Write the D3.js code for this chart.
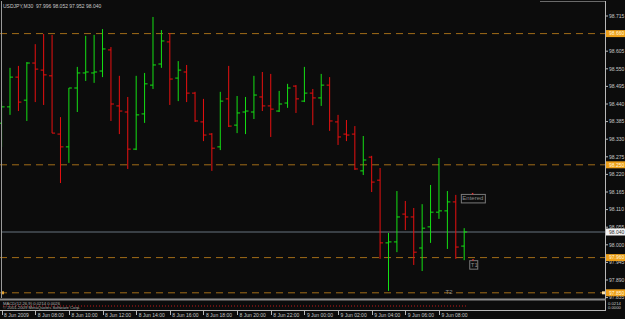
<!DOCTYPE html>
<html><head><meta charset="utf-8">
<script src="https://cdn.jsdelivr.net/npm/d3@7"></script>
<style>html,body{margin:0;padding:0;background:#0c0c0c;overflow:hidden}</style>
</head><body><svg id="c" width="625" height="319"></svg>
<script>
// ---------- DATA ----------
const chartTitle = "USDJPY,M30";
const lastOHLC = ["97.996", "98.052", "97.952", "98.040"];
const barOpen  = [98.380,98.431,98.524,98.452,98.568,98.546,98.528,98.346,98.306,98.490,98.537,98.537,98.543,98.609,98.434,98.415,98.299,98.409,98.499,98.565,98.634,98.521,98.540,98.474,98.384,98.346,98.306,98.456,98.374,98.415,98.415,98.462,98.434,98.418,98.443,98.496,98.449,98.474,98.459,98.499,98.384,98.346,98.346,98.231,98.274,98.202,98.006,98.009,98.096,98.087,97.990,98.056,98.102,98.106,98.134,97.996];
const barHigh  = [98.449,98.553,98.559,98.571,98.627,98.659,98.656,98.399,98.490,98.556,98.653,98.656,98.674,98.618,98.528,98.462,98.528,98.537,98.712,98.671,98.662,98.574,98.562,98.478,98.456,98.349,98.478,98.559,98.465,98.462,98.528,98.540,98.534,98.481,98.503,98.499,98.556,98.487,98.534,98.524,98.406,98.390,98.371,98.340,98.278,98.240,98.037,98.168,98.137,98.115,98.127,98.187,98.271,98.168,98.156,98.052];
const barLow   = [98.306,98.406,98.418,98.387,98.446,98.437,98.349,98.193,98.256,98.415,98.512,98.506,98.524,98.387,98.346,98.237,98.296,98.381,98.487,98.553,98.437,98.449,98.446,98.384,98.324,98.231,98.296,98.368,98.349,98.346,98.393,98.418,98.337,98.415,98.428,98.412,98.446,98.374,98.434,98.356,98.312,98.324,98.234,98.218,98.165,97.956,97.856,97.977,98.046,97.937,97.918,98.006,98.081,97.987,97.956,97.952];
const barClose = [98.431,98.524,98.446,98.568,98.549,98.531,98.349,98.306,98.490,98.537,98.540,98.540,98.612,98.440,98.418,98.299,98.406,98.503,98.562,98.637,98.518,98.546,98.474,98.387,98.343,98.302,98.449,98.371,98.412,98.418,98.468,98.434,98.424,98.440,98.490,98.456,98.474,98.459,98.499,98.387,98.337,98.343,98.237,98.265,98.196,98.006,98.009,98.087,98.087,97.977,98.052,98.102,98.106,98.134,97.993,98.040];
const timeLabels = ["8 Jun 2009","8 Jun 08:00","8 Jun 10:00","8 Jun 12:00","8 Jun 14:00","8 Jun 16:00","8 Jun 18:00","8 Jun 20:00","8 Jun 22:00","9 Jun 00:00","9 Jun 02:00","9 Jun 04:00","9 Jun 06:00","9 Jun 08:00"];
const timeLabelBars = [0,4,8,12,16,20,24,28,32,36,40,44,48,52];
const priceTicks = [98.715,98.660,98.605,98.550,98.495,98.440,98.385,98.330,98.275,98.220,98.165,98.110,98.055,98.000,97.945,97.890,97.835];
const levelPrices = [98.660,98.250,97.960,97.850];
const bidPrice = 98.040;
const noteTexts = ["Entered","T1","T2"];
const noteBars = [54.6,55.6,52.6];
const notePrices = [98.159,97.952,97.868];
const indicatorText = "MACD(12,26,9) 0.0214 0.0026";
const copyrightText = "\u00a9 2001-2009 MetaQuotes Software Corp.";
const indicatorScale = ["0.0214","0.0000"];

// ---------- DRAW ----------
const svg = d3.select("#c");
const W = 625, H = 319;
const FONT = "Liberation Sans, Arial, sans-serif";
svg.append("rect").attr("width", W).attr("height", H).attr("fill", "#0c0c0c");

const x = d3.scaleLinear().domain([0, 55]).range([1.6, 464.2]);
const y = d3.scaleLinear().domain([98.715, 97.835]).range([16, 297.6]);
const bull = "#14e014", bear = "#e81010";
const axisCol = "#b8b8b8", textCol = "#c8c8c8";

const plot = svg.append("g");

// level dashed lines
plot.selectAll("line.lvl").data(levelPrices).join("line")
  .attr("x1", 0).attr("x2", 605).attr("y1", d => y(d)).attr("y2", d => y(d))
  .attr("stroke", "#a06c18").attr("stroke-width", 1).attr("stroke-dasharray", "7,5");

// bid line
plot.append("line").attr("x1", 1).attr("x2", 605).attr("y1", y(bidPrice)).attr("y2", y(bidPrice))
  .attr("stroke", "#66727e").attr("stroke-width", 1);

// bars
const bars = plot.selectAll("g.bar").data(barOpen.map((o, i) => i)).join("g");
const col = i => barClose[i] >= barOpen[i] ? bull : bear;
bars.append("line")
  .attr("x1", i => x(i)).attr("x2", i => x(i))
  .attr("y1", i => y(barHigh[i])).attr("y2", i => y(barLow[i]))
  .attr("stroke", col);
bars.append("line")
  .attr("x1", i => x(i) - 3).attr("x2", i => x(i))
  .attr("y1", i => y(barOpen[i])).attr("y2", i => y(barOpen[i]))
  .attr("stroke", col);
bars.append("line")
  .attr("x1", i => x(i)).attr("x2", i => x(i) + 3)
  .attr("y1", i => y(barClose[i])).attr("y2", i => y(barClose[i]))
  .attr("stroke", col);

// annotations
noteTexts.forEach((t, k) => {
  const nx = x(noteBars[k]), ny = y(notePrices[k]);
  const g = plot.append("g");
  g.append("text").attr("x", nx + 1.5).attr("y", ny + 6.5)
    .attr("font-family", FONT).attr("font-size", 6).attr("fill", "#8a8a8a").text(t);
  if (k < 2) {
    const w = t.length > 2 ? 24 : 8;
    g.append("rect").attr("x", nx + 0.5).attr("y", ny + 0.5).attr("width", w).attr("height", 8.5)
      .attr("fill", "none").attr("stroke", "#7a7a7a").attr("stroke-width", 1);
    g.append("rect").attr("x", nx + w / 2 - 1).attr("y", ny - 1).attr("width", 1.5).attr("height", 1.5).attr("fill", "#e03030");
  }
});

// level end markers (selected line)
svg.append("rect").attr("x", 1).attr("y", y(levelPrices[3]) - 1.5).attr("width", 3).attr("height", 3).attr("fill", "#e0a030");
svg.append("rect").attr("x", 602).attr("y", y(levelPrices[3]) - 1.5).attr("width", 3).attr("height", 3).attr("fill", "#ffe0a0");

// frame
svg.append("line").attr("x1", 1.5).attr("x2", 1.5).attr("y1", 1).attr("y2", 298).attr("stroke", "#9a9a9a");
svg.append("line").attr("x1", 540).attr("x2", 606).attr("y1", 1.5).attr("y2", 1.5).attr("stroke", "#6a6a6a");
svg.append("line").attr("x1", 605.5).attr("x2", 605.5).attr("y1", 1).attr("y2", 311).attr("stroke", axisCol);
svg.append("rect").attr("x", 0).attr("y", 298.5).attr("width", 606).attr("height", 2).attr("fill", "#8a8a8a");
svg.append("line").attr("x1", 0).attr("x2", 606).attr("y1", 310.5).attr("y2", 310.5).attr("stroke", axisCol);

// header
svg.append("text").attr("x", 3).attr("y", 7.5).attr("font-family", FONT).attr("font-size", 5)
  .attr("fill", textCol).attr("xml:space", "preserve")
  .text(chartTitle + "  " + lastOHLC.join(" "));

// price axis
const pa = svg.append("g");
pa.selectAll("line").data(priceTicks).join("line")
  .attr("x1", 605).attr("x2", 608).attr("y1", d => y(d)).attr("y2", d => y(d)).attr("stroke", axisCol);
pa.selectAll("text").data(priceTicks).join("text")
  .attr("x", 609).attr("y", d => y(d) + 1.8).attr("font-family", FONT).attr("font-size", 5)
  .attr("fill", textCol).text(d => d3.format(".3f")(d));

// level labels
levelPrices.forEach(p => {
  svg.append("rect").attr("x", 606).attr("y", y(p) - 3.5).attr("width", 19).attr("height", 7).attr("fill", "#eda01a");
  svg.append("text").attr("x", 609).attr("y", y(p) + 1.8).attr("font-family", FONT).attr("font-size", 5)
    .attr("fill", "#fff6dc").text(d3.format(".3f")(p));
});
svg.append("rect").attr("x", 606).attr("y", y(bidPrice) - 3.5).attr("width", 19).attr("height", 7).attr("fill", "#f2f2f2");
svg.append("text").attr("x", 609).attr("y", y(bidPrice) + 1.8).attr("font-family", FONT).attr("font-size", 5)
  .attr("fill", "#303030").text(d3.format(".3f")(bidPrice));

// indicator window
svg.append("line").attr("x1", 3).attr("x2", 466).attr("y1", 306).attr("y2", 306)
  .attr("stroke", "#c01818").attr("stroke-dasharray", "1,2");
svg.append("text").attr("x", 3).attr("y", 304.6).attr("font-family", FONT).attr("font-size", 4.2)
  .attr("fill", "#b0b0b0").text(indicatorText);
svg.append("text").attr("x", 3).attr("y", 309.4).attr("font-family", FONT).attr("font-size", 4.2)
  .attr("fill", "#b0b0b0").text(copyrightText);
indicatorScale.forEach((t, k) => {
  svg.append("text").attr("x", 608).attr("y", 304.6 + k * 4.6).attr("font-family", FONT).attr("font-size", 4.2)
    .attr("fill", textCol).text(t);
});

// time axis
const ta = svg.append("g");
ta.selectAll("line").data(timeLabelBars).join("line")
  .attr("x1", d => Math.round(x(d)) + 0.5).attr("x2", d => Math.round(x(d)) + 0.5)
  .attr("y1", 310).attr("y2", 315).attr("stroke", axisCol);
ta.selectAll("text").data(timeLabels).join("text")
  .attr("x", (d, i) => x(timeLabelBars[i]) + 2.5).attr("y", 316.5)
  .attr("font-family", FONT).attr("font-size", 5).attr("fill", textCol).text(d => d);
</script></body></html>
